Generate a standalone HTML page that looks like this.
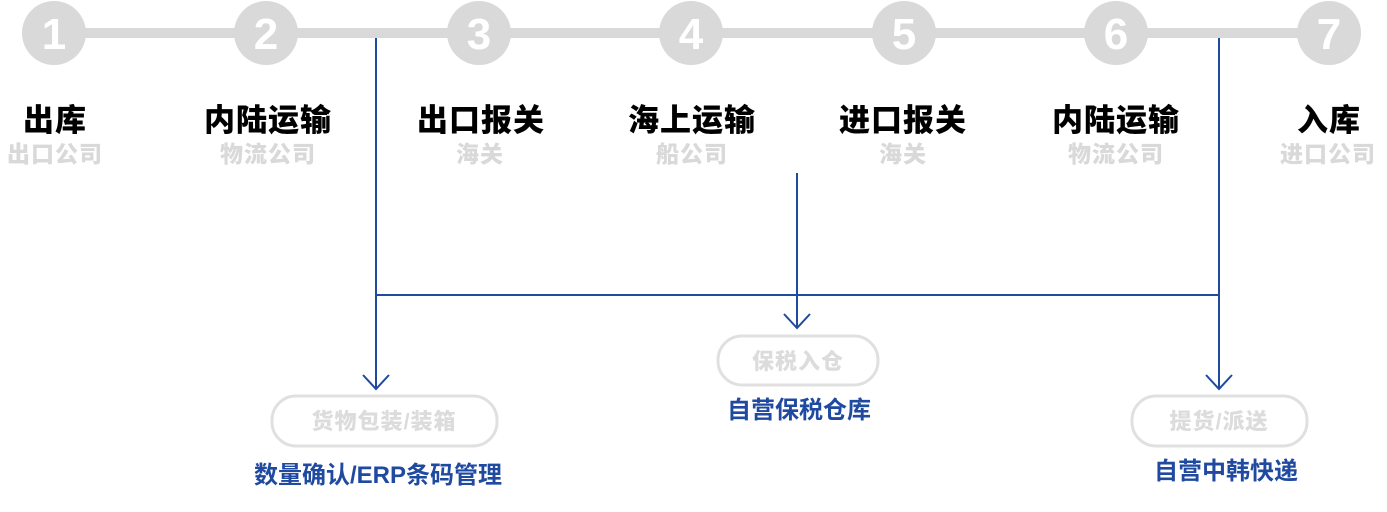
<!DOCTYPE html>
<html><head><meta charset="utf-8"><style>
html,body{margin:0;padding:0;background:#fff;}
svg{display:block;}
text{font-family:"Liberation Sans","Noto Sans CJK SC",sans-serif;}
.t{font-size:31px;font-weight:900;fill:#000;letter-spacing:1px;}
.s{font-size:23px;font-weight:900;fill:#d9d9d9;letter-spacing:1px;}
.n{font-size:44px;font-weight:bold;fill:#fff;}
.b{font-size:24px;font-weight:bold;fill:#1f4aa0;}
.g{font-size:22px;font-weight:900;fill:#dcdcdc;letter-spacing:1px;}
</style></head><body>
<svg width="1387" height="512" viewBox="0 0 1387 512" xmlns="http://www.w3.org/2000/svg">
<rect x="54" y="28" width="1275" height="10" fill="#d9d9d9"/>
<g fill="#d9d9d9">
<circle cx="54" cy="33" r="32"/><circle cx="266" cy="33" r="32"/><circle cx="479" cy="33" r="32"/>
<circle cx="691" cy="33" r="32"/><circle cx="904" cy="33" r="32"/><circle cx="1116" cy="33" r="32"/><circle cx="1329" cy="33" r="32"/>
</g>
<g class="n" text-anchor="middle">
<text x="54" y="49">1</text><text x="266" y="49">2</text><text x="479" y="49">3</text>
<text x="691" y="49">4</text><text x="904" y="49">5</text><text x="1116" y="49">6</text><text x="1329" y="49">7</text>
</g>
<g class="t" text-anchor="middle">
<text x="55" y="131">出库</text><text x="268" y="131">内陆运输</text><text x="481" y="131">出口报关</text>
<text x="692" y="131">海上运输</text><text x="903" y="131">进口报关</text><text x="1116" y="131">内陆运输</text><text x="1329" y="131">入库</text>
</g>
<g class="s" text-anchor="middle">
<text x="55" y="162">出口公司</text><text x="268" y="162">物流公司</text><text x="480" y="162">海关</text>
<text x="692" y="162">船公司</text><text x="903" y="162">海关</text><text x="1116" y="162">物流公司</text><text x="1328" y="162">进口公司</text>
</g>
<g stroke="#1f4aa0" stroke-width="2" fill="none">
<line x1="376" y1="38" x2="376" y2="388"/>
<line x1="1219" y1="38" x2="1219" y2="388"/>
<line x1="376" y1="295" x2="1219" y2="295"/>
<line x1="797" y1="173" x2="797" y2="328"/>
<polyline points="363,375 376,389 389,375"/>
<polyline points="1206,375 1219,389 1232,375"/>
<polyline points="784,314 797,328 810,314"/>
</g>
<g fill="none" stroke="#e0e0e0" stroke-width="3">
<rect x="272" y="396" width="225" height="50" rx="24"/>
<rect x="718" y="336" width="160" height="49" rx="24"/>
<rect x="1132" y="396" width="175" height="50" rx="24"/>
</g>
<g class="g" text-anchor="middle">
<text x="384" y="429">货物包装/装箱</text>
<text x="798" y="369">保税入仓</text>
<text x="1219" y="429">提货/派送</text>
</g>
<g class="b" text-anchor="middle">
<text x="378" y="483">数量确认/ERP条码管理</text>
<text x="799" y="418">自营保税仓库</text>
<text x="1226" y="479">自营中韩快递</text>
</g>
</svg>
</body></html>
